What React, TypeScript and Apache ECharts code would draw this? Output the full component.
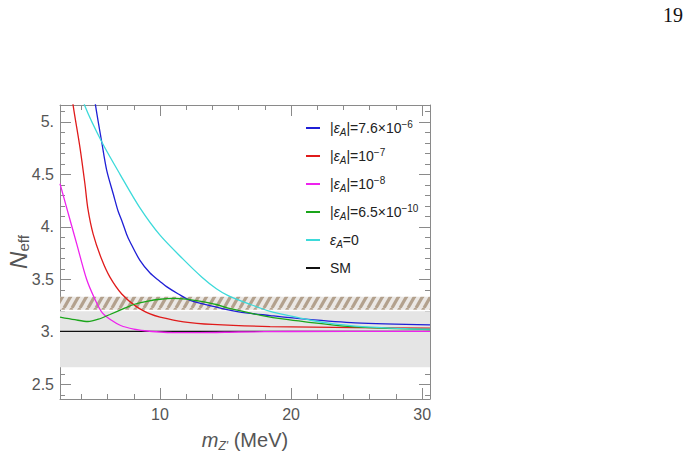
import React, { useEffect, useRef } from "react";
import * as echarts from "echarts";

// ---- data ----
const X_MIN = 2.37;
const X_MAX = 30.6;
const Y_MIN = 2.36;
const Y_MAX = 5.16;

const xMajorTicks = [10, 20, 30];
const xMinorTicks = [4, 6, 8, 12, 14, 16, 18, 22, 24, 26, 28];
const yMajorTicks = [2.5, 3, 3.5, 4, 4.5, 5];
const yMinorTicks = [2.4, 2.6, 2.7, 2.8, 2.9, 3.1, 3.2, 3.3, 3.4, 3.6, 3.7, 3.8, 3.9, 4.1, 4.2, 4.3, 4.4, 4.6, 4.7, 4.8, 4.9, 5.1];

const blueX = [5.0, 5.09, 5.55, 5.93, 6.44, 6.8, 7.08, 7.45, 7.7, 8.47, 9.24, 10, 10.5, 11.4, 12.3, 14.3, 16, 18.4, 21.1, 24.9, 30.6];
const blueY = [5.25, 5.15, 4.81, 4.54, 4.31, 4.15, 4.06, 3.93, 3.86, 3.68, 3.56, 3.48, 3.43, 3.36, 3.3, 3.235, 3.19, 3.155, 3.12, 3.085, 3.065];

const redX = [3.3, 3.38, 3.9, 4.27, 4.5, 4.9, 5.55, 6.18, 7.08, 8.2, 9.24, 10, 11.8, 14, 18.4, 24.9, 30.6];
const redY = [5.25, 5.15, 4.75, 4.41, 4.17, 3.93, 3.69, 3.52, 3.36, 3.24, 3.17, 3.14, 3.095, 3.07, 3.05, 3.04, 3.035];

const magentaX = [2.37, 2.88, 3.64, 4.4, 5.0, 5.6, 6.3, 7.0, 8.0, 8.85, 10, 11, 13, 16, 20, 30.6];
const magentaY = [4.41, 4.18, 3.84, 3.5, 3.32, 3.18, 3.11, 3.06, 3.025, 3.01, 2.998, 2.993, 2.993, 2.998, 3.003, 3.005];

const greenX = [2.37, 3.5, 4.5, 5.3, 6.18, 7.3, 8.0, 9.0, 10, 11, 12, 12.9, 14.3, 15.2, 16.5, 17.8, 19.5, 21.1, 24, 27, 30.6];
const greenY = [3.14, 3.115, 3.098, 3.12, 3.165, 3.225, 3.26, 3.29, 3.31, 3.318, 3.312, 3.295, 3.26, 3.225, 3.19, 3.155, 3.12, 3.095, 3.055, 3.035, 3.022];

const cyanX = [4.15, 4.27, 5.55, 6.95, 8.47, 10, 11.78, 13.2, 14.3, 15.2, 16.9, 18.4, 20, 21.5, 23, 24.9, 28.7, 30.6];
const cyanY = [5.25, 5.15, 4.81, 4.5, 4.18, 3.92, 3.69, 3.52, 3.41, 3.345, 3.26, 3.195, 3.15, 3.11, 3.08, 3.055, 3.03, 3.025];

const smX = [2.37, 30.6];
const smY = [3.005, 3.005];

const grayBand = [2.662, 3.195];
const hatchBand = [3.21, 3.334];

const seriesNames = ["b", "r", "m", "g", "c", "sm"];
const seriesColors = ["#1f1fd6", "#e01b1b", "#ee22ee", "#1aa51a", "#3ddada", "#111111"];
const legendLabels: Record<string, string> = {
  b: "|{i|ε}{s|A}|=7.6×10{p|−6}",
  r: "|{i|ε}{s|A}|=10{p|−7}",
  m: "|{i|ε}{s|A}|=10{p|−8}",
  g: "|{i|ε}{s|A}|=6.5×10{p|−10}",
  c: "{i|ε}{s|A}=0",
  sm: "SM",
};

const zip = (xs: number[], ys: number[]) => xs.map((x, i) => [x, ys[i]]);

const FONT = "Liberation Sans";
const FRAME = "#8a8a8a";

export default function App() {
  const ref = useRef<HTMLDivElement>(null);

  useEffect(() => {
    if (!ref.current) return;
    const chart = echarts.init(ref.current, undefined, { renderer: "svg" });

    const cv = document.createElement("canvas");
    cv.width = 8;
    cv.height = 14;
    const ctx = cv.getContext("2d")!;
    ctx.fillStyle = "#ebe8e5";
    ctx.fillRect(0, 0, 8, 14);
    ctx.strokeStyle = "#b3a18d";
    ctx.lineWidth = 3.2;
    for (const k of [-8, 0, 8]) {
      ctx.beginPath();
      ctx.moveTo(k, 14);
      ctx.lineTo(k + 8, 0);
      ctx.stroke();
    }

    const datasets = [
      zip(blueX, blueY),
      zip(redX, redY),
      zip(magentaX, magentaY),
      zip(greenX, greenY),
      zip(cyanX, cyanY),
      zip(smX, smY),
    ];

    const baseX = {
      type: "value",
      min: X_MIN,
      max: X_MAX,
      splitLine: { show: false },
    };
    const baseY = {
      type: "value",
      min: Y_MIN,
      max: Y_MAX,
      splitLine: { show: false },
    };

    const option: any = {
      animation: false,
      grid: { left: 60, right: 260, top: 105, bottom: 59, containLabel: false, outerBoundsMode: "none" },
      xAxis: [
        {
          ...baseX,
          position: "bottom",
          axisLine: { show: true, lineStyle: { color: FRAME, width: 1 } },
          axisTick: { show: true, inside: true, length: 11, customValues: xMajorTicks, lineStyle: { color: FRAME } },
          axisLabel: { show: true, customValues: xMajorTicks, color: "#555", fontSize: 16, fontFamily: FONT, margin: 7 },
          name: "{m|m}{s|Z'} (MeV)",
          nameLocation: "middle",
          nameGap: 29,
          nameMoveOverlap: false,
          nameTextStyle: {
            color: "#555",
            fontSize: 20,
            fontFamily: FONT,
            lineHeight: 24,
            rich: {
              m: { fontSize: 20, fontStyle: "italic", fontFamily: FONT, color: "#555", lineHeight: 24 },
              s: { fontSize: 12, fontStyle: "italic", fontFamily: FONT, color: "#555", verticalAlign: "bottom", lineHeight: 14 },
            },
          },
        },
        {
          ...baseX,
          position: "bottom",
          axisLine: { show: false },
          axisTick: { show: true, inside: true, length: 5, customValues: xMinorTicks, lineStyle: { color: FRAME } },
          axisLabel: { show: false },
        },
        {
          ...baseX,
          position: "top",
          axisLine: { show: true, lineStyle: { color: FRAME, width: 1 } },
          axisTick: { show: true, inside: true, length: 11, customValues: xMajorTicks, lineStyle: { color: FRAME } },
          axisLabel: { show: false },
        },
        {
          ...baseX,
          position: "top",
          axisLine: { show: false },
          axisTick: { show: true, inside: true, length: 5, customValues: xMinorTicks, lineStyle: { color: FRAME } },
          axisLabel: { show: false },
        },
      ],
      yAxis: [
        {
          ...baseY,
          position: "left",
          axisLine: { show: true, lineStyle: { color: FRAME, width: 1 } },
          axisTick: { show: true, inside: true, length: 11, customValues: yMajorTicks, lineStyle: { color: FRAME } },
          axisLabel: {
            show: true,
            customValues: yMajorTicks,
            color: "#555",
            fontSize: 16,
            fontFamily: FONT,
            margin: 6,
            formatter: (v: number) => (Math.abs(v - Math.round(v)) < 1e-9 ? Math.round(v) + "." : String(v)),
          },
          name: "{n|N}{s|eff}",
          nameLocation: "middle",
          nameGap: 29,
          nameRotate: 90,
          nameMoveOverlap: false,
          nameTextStyle: {
            color: "#555",
            fontFamily: FONT,
            rich: {
              n: { fontSize: 24, fontStyle: "italic", fontFamily: FONT, color: "#555", lineHeight: 26 },
              s: { fontSize: 15, fontFamily: FONT, color: "#555", verticalAlign: "bottom", lineHeight: 18 },
            },
          },
        },
        {
          ...baseY,
          position: "left",
          axisLine: { show: false },
          axisTick: { show: true, inside: true, length: 5, customValues: yMinorTicks, lineStyle: { color: FRAME } },
          axisLabel: { show: false },
        },
        {
          ...baseY,
          position: "right",
          axisLine: { show: true, lineStyle: { color: FRAME, width: 1 } },
          axisTick: { show: true, inside: true, length: 11, customValues: yMajorTicks, lineStyle: { color: FRAME } },
          axisLabel: { show: false },
        },
        {
          ...baseY,
          position: "right",
          axisLine: { show: false },
          axisTick: { show: true, inside: true, length: 5, customValues: yMinorTicks, lineStyle: { color: FRAME } },
          axisLabel: { show: false },
        },
      ],
      legend: {
        data: seriesNames,
        orient: "vertical",
        left: 301,
        top: 114,
        itemWidth: 14,
        itemHeight: 2,
        itemGap: 10,
        icon: "rect",
        formatter: (name: string) => legendLabels[name],
        textStyle: {
          fontSize: 14,
          color: "#222",
          fontFamily: FONT,
          lineHeight: 18,
          padding: [0, 0, 0, 5],
          rich: {
            i: { fontSize: 14, fontStyle: "italic", fontFamily: FONT, color: "#222", lineHeight: 18 },
            s: { fontSize: 10, fontStyle: "italic", fontFamily: FONT, color: "#222", verticalAlign: "bottom", lineHeight: 14 },
            p: { fontSize: 10, fontFamily: FONT, color: "#222", verticalAlign: "top", lineHeight: 14 },
          },
        },
      },
      graphic: [
        {
          type: "text",
          left: 663,
          top: 5,
          style: { text: "19", fontSize: 20, fontFamily: "Liberation Serif", fill: "#111" },
        },
      ],
      series: [
        {
          type: "line",
          name: "band",
          data: zip(smX, smY),
          symbol: "none",
          lineStyle: { opacity: 0 },
          silent: true,
          z: 1,
          markArea: {
            silent: true,
            data: [
              [{ yAxis: grayBand[0], itemStyle: { color: "#e5e5e5" } }, { yAxis: grayBand[1] }],
              [{ yAxis: hatchBand[0], itemStyle: { color: { image: cv, repeat: "repeat" } } }, { yAxis: hatchBand[1] }],
            ],
          },
        },
        ...seriesNames.map((n, i) => ({
          type: "line",
          name: n,
          data: datasets[i],
          symbol: "none",
          smooth: 0.3,
          color: seriesColors[i],
          lineStyle: { width: 1.3, color: seriesColors[i] },
          z: 3 + (n === "sm" ? -1 : 0),
        })),
      ],
    };

    chart.setOption(option);
    return () => chart.dispose();
  }, []);

  return (
    <div
      ref={ref}
      style={{ position: "fixed", left: 0, top: 0, width: 690, height: 458, background: "#fff" }}
    />
  );
}
